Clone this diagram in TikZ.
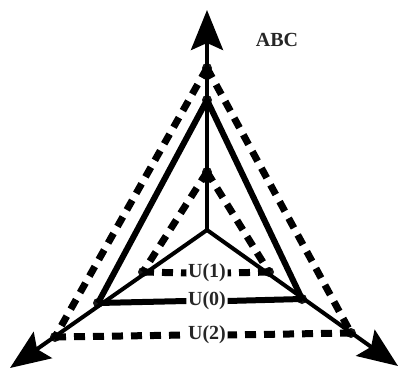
\documentclass[tikz,border=0pt]{standalone}
\usepackage{fontspec}
\setmainfont{Liberation Serif}
\usetikzlibrary{arrows.meta}
\begin{document}
\begin{tikzpicture}[x=1pt,y=1pt,
  axis/.style={line width=4pt,-{Stealth[length=40pt,width=32pt,inset=7pt]}},
  solidtri/.style={line width=6pt,line join=miter},
  dashtri/.style={line width=7pt,dash pattern=on 11pt off 8pt},
  vdot/.style={circle,fill=black!90,inner sep=0pt,minimum size=10pt},
  lbl/.style={font=\bfseries\fontsize{20}{20}\selectfont,inner sep=1.5pt,text=black!85}]
\useasboundingbox (0,0) rectangle (398,-369);
\coordinate (O) at (207,-230);
\coordinate (T) at (207,-10);
\coordinate (L) at (10,-368);
\coordinate (R) at (398,-366);
\node[vdot] (A0) at (207,-100) {};
\node[vdot] (B0) at (98,-303) {};
\node[vdot] (C0) at (302,-299) {};
\node[vdot] (A1) at (207,-172) {};
\node[vdot] (B1) at (143,-272) {};
\node[vdot] (C1) at (269,-272) {};
\node[vdot] (A2) at (207,-68) {};
\node[vdot] (B2) at (55,-337) {};
\node[vdot] (C2) at (351,-333) {};
\node[lbl] (L1) at (207,-273) {U(1)};
\node[lbl] (L0) at (207,-301) {U(0)};
\node[lbl] (L2) at (207,-335) {U(2)};
\node[lbl] (abc) at (277,-40) {ABC};
\draw[axis] (O) -- (T);
\draw[axis] (O) -- (L);
\draw[axis] (O) -- (R);
\draw[solidtri] (A0.center) -- (B0.center);
\draw[solidtri] (A0.center) -- (C0.center);
\draw[solidtri] (B0.center) -- (L0.west);
\draw[solidtri] (L0.east) -- (C0.center);
\draw[dashtri] (A1.center) -- (B1.center);
\draw[dashtri] (A1.center) -- (C1.center);
\draw[dashtri] (B1.center) -- (L1.west);
\draw[dashtri] (C1.center) -- (L1.east);
\draw[dashtri] (A2.center) -- (B2.center);
\draw[dashtri] (A2.center) -- (C2.center);
\draw[dashtri] (B2.center) -- (L2.west);
\draw[dashtri] (C2.center) -- (L2.east);
\end{tikzpicture}
\end{document}
